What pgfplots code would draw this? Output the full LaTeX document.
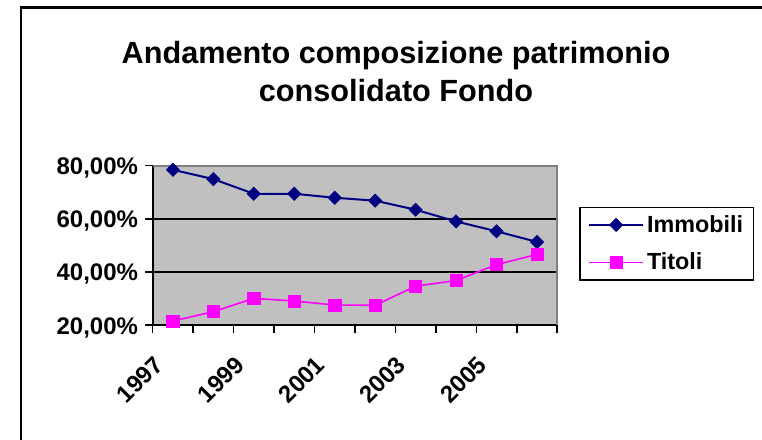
\documentclass[border=0pt]{standalone}
\usepackage{fontspec}
\setmainfont{Liberation Sans}
\usepackage{pgfplots}
\pgfplotsset{compat=1.18}
\definecolor{navyc}{RGB}{0,0,128}
\definecolor{magc}{RGB}{255,0,255}
\definecolor{plotgray}{RGB}{192,192,192}
\definecolor{bordgray}{RGB}{128,128,128}
\begin{document}
\begin{tikzpicture}
\useasboundingbox (0,0) rectangle (571.5pt,329.25pt);
\draw[line width=2pt] (15.75pt,-5pt) -- (15.75pt,323.5pt) -- (580pt,323.5pt);
\node[font=\fontsize{23}{27}\selectfont\bfseries, anchor=base, inner sep=0pt] at (297pt,281.25pt) {Andamento composizione patrimonio};
\node[font=\fontsize{23}{27}\selectfont\bfseries, anchor=base, inner sep=0pt] at (297pt,252.75pt) {consolidato Fondo};
\begin{axis}[
  at={(114.5pt,85.3pt)}, anchor=south west,
  scale only axis, width=303.4pt, height=119.8pt,
  xmin=-0.5, xmax=9.5, ymin=20, ymax=80,
  clip=false,
  axis lines=left, axis line style={-, line width=1.5pt, black},
  axis background/.style={fill=plotgray},
  tick align=outside,
  xtick={0,2,4,6,8},
  xticklabels={1997,1999,2001,2003,2005},
  major x tick style={draw=none},
  minor xtick={-0.5,0.5,1.5,2.5,3.5,4.5,5.5,6.5,7.5,8.5,9.5},
  minor tick length=5.5pt, major tick length=5.5pt,
  every tick/.style={black, line width=1.2pt},
  ytick={20,40,60,80},
  yticklabels={{20,00\%},{40,00\%},{60,00\%},{80,00\%}},
  ymajorgrids, major grid style={black, line width=1.4pt},
  tick label style={font=\fontsize{18}{21}\selectfont\bfseries},
  xticklabel style={inner sep=0pt, xshift=-10.5pt, yshift=-21pt, rotate=45, anchor=east},
  yticklabel style={inner sep=0pt, xshift=-5.3pt, yshift=-6.7pt, anchor=base east},
  legend style={at={(1.0537,0.7426)}, anchor=north west, draw=black, line width=1.2pt, fill=white,
    font=\fontsize{17.5}{21}\selectfont\bfseries, inner xsep=6pt, inner ysep=4pt, row sep=10pt,
    cells={anchor=west}},
  legend image code/.code={\draw[mark repeat=2,mark phase=2] plot coordinates {(0pt,0pt)(20.5pt,0pt)(41pt,0pt)};},
]
\draw[bordgray, line width=1.5pt] (rel axis cs:0,1) -- (rel axis cs:1,1) -- (rel axis cs:1,0);
\addplot[color=navyc, line width=1.5pt, mark=square*, mark size=3.5pt, mark options={rotate=45, fill=navyc, line width=0.5pt}]
  coordinates {(0,78.4)(1,74.9)(2,69.4)(3,69.4)(4,67.9)(5,66.8)(6,63.4)(7,59.0)(8,55.3)(9,51.3)};
\addlegendentry{Immobili}
\addplot[color=magc, line width=1.2pt, mark=square*, mark size=4.6pt, mark options={fill=magc, line width=0.5pt}]
  coordinates {(0,21.6)(1,25.1)(2,30.1)(3,29.1)(4,27.6)(5,27.5)(6,34.7)(7,36.8)(8,42.8)(9,46.6)};
\addlegendentry{Titoli}
\end{axis}
\end{tikzpicture}
\end{document}
